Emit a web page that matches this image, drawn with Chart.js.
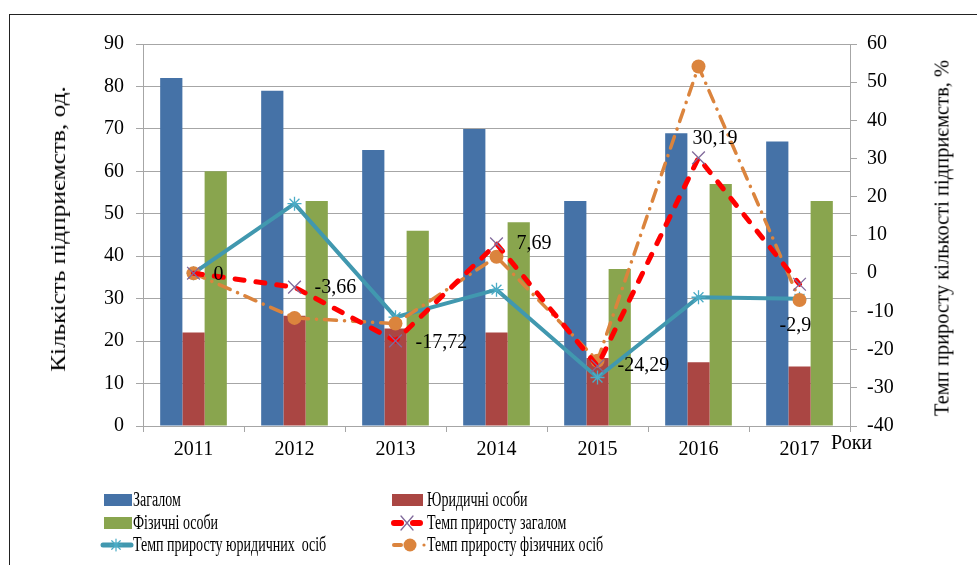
<!DOCTYPE html>
<html>
<head>
<meta charset="utf-8">
<script src="https://cdn.jsdelivr.net/npm/chart.js@4"></script>
<style>
  body { margin: 0; background: #fff; }
  #wrap { position: relative; width: 977px; height: 565px; overflow: hidden; }
  #frame { position: absolute; left: 9px; top: 14px; width: 1000px; height: 600px; border-left: 1.5px solid #222; border-top: 1.5px solid #222; }
  canvas { position: absolute; left: 0; top: 0; }
  .lbl { position: absolute; font-family: "Liberation Serif", serif; color: #000; white-space: nowrap; }
</style>
</head>
<body>
<div id="wrap">
  <div id="frame"></div>
  <canvas id="chart" width="977" height="565"></canvas>
  <div class="lbl" id="yTitle" style="font-size:22px; left:58px; top:229px; transform: translate(-50%, -50%) rotate(-90deg) scaleX(1.15);">Кількість підприємств, од.</div>
  <div class="lbl" id="y2Title" style="font-size:20.5px; left:942px; top:238px; transform: translate(-50%, -50%) rotate(-90deg);">Темп приросту кількості підприємств, %</div>
  <div class="lbl" style="font-size:20px; left:831px; top:431px;">Роки</div>
</div>
<script>
// data
const years = ['2011', '2012', '2013', '2014', '2015', '2016', '2017'];
const total = [82, 79, 65, 70, 53, 69, 67];
const legal = [22, 26, 23, 22, 16, 15, 14];
const individual = [60, 53, 46, 48, 37, 57, 53];
const growthTotal = [0, -3.66, -17.72, 7.69, -24.29, 30.19, -2.9];
const growthLegal = [0, 18.2, -11.5, -4.3, -27.3, -6.3, -6.7];
const growthIndividual = [0, -11.7, -13.2, 4.3, -22.9, 54.1, -7.0];

const blue = '#4572A7', red = '#AA4643', green = '#89A54E';
const teal = '#4198AF', orange = '#DB843D', purple = '#80699B';
const serif = '"Liberation Serif", "Times New Roman", serif';

// label offsets for the "total" growth values
const labelOffsets = [[20, 2], [20, 1], [20, 2], [20, 0], [20, 0], [-6, -19], [-20, 41]];

const valueLabels = {
    id: 'valueLabels',
    afterDatasetsDraw(chart) {
        const ctx = chart.ctx;
        const meta = chart.getDatasetMeta(3);
        ctx.save();
        ctx.font = '20px ' + serif;
        ctx.fillStyle = '#000';
        ctx.textBaseline = 'middle';
        ctx.textAlign = 'left';
        meta.data.forEach((pt, i) => {
            const txt = String(growthTotal[i]).replace('.', ',');
            ctx.fillText(txt, pt.x + labelOffsets[i][0], pt.y + labelOffsets[i][1]);
        });
        ctx.restore();
    }
};

const legendBox = {
    id: 'legendBox',
    afterDraw(chart) {
        const ctx = chart.ctx;
        const items = [
            { kind: 'bar', color: blue, x: 104, y: 500, w: 28, tx: 133, text: 'Загалом' },
            { kind: 'bar', color: red, x: 392, y: 500, w: 31, tx: 427, text: 'Юридичні особи' },
            { kind: 'bar', color: green, x: 104, y: 523, w: 28, tx: 133, text: 'Фізичні особи' },
            { kind: 'red', x: 392, y: 523, tx: 427, text: 'Темп приросту загалом' },
            { kind: 'teal', x: 103, y: 545, tx: 133, text: 'Темп приросту юридичних  осіб' },
            { kind: 'orange', x: 392, y: 545, tx: 427, text: 'Темп приросту фізичних осіб' }
        ];
        ctx.save();
        items.forEach(it => {
            ctx.save();
            if (it.kind === 'bar') {
                ctx.fillStyle = it.color;
                ctx.fillRect(it.x, it.y - 6, it.w, 12);
            } else if (it.kind === 'red') {
                ctx.strokeStyle = '#FF0000';
                ctx.lineWidth = 6;
                ctx.lineCap = 'round';
                ctx.beginPath();
                ctx.moveTo(it.x + 2, it.y); ctx.lineTo(it.x + 9, it.y);
                ctx.moveTo(it.x + 21, it.y); ctx.lineTo(it.x + 28, it.y);
                ctx.stroke();
                ctx.strokeStyle = purple;
                ctx.lineWidth = 1.3;
                ctx.beginPath();
                ctx.moveTo(it.x + 9, it.y - 7); ctx.lineTo(it.x + 21, it.y + 7);
                ctx.moveTo(it.x + 21, it.y - 7); ctx.lineTo(it.x + 9, it.y + 7);
                ctx.stroke();
            } else if (it.kind === 'teal') {
                ctx.strokeStyle = teal;
                ctx.lineWidth = 5;
                ctx.lineCap = 'round';
                ctx.beginPath();
                ctx.moveTo(it.x, it.y); ctx.lineTo(it.x + 28, it.y);
                ctx.stroke();
                ctx.strokeStyle = '#4BACC6';
                ctx.lineWidth = 1.2;
                const cx = it.x + 13, r = 6;
                ctx.beginPath();
                for (let k = 0; k < 4; k++) {
                    const a = k * Math.PI / 4;
                    ctx.moveTo(cx - r * Math.cos(a), it.y - r * Math.sin(a));
                    ctx.lineTo(cx + r * Math.cos(a), it.y + r * Math.sin(a));
                }
                ctx.stroke();
            } else if (it.kind === 'orange') {
                ctx.strokeStyle = orange;
                ctx.fillStyle = orange;
                ctx.lineWidth = 4;
                ctx.lineCap = 'round';
                ctx.beginPath();
                ctx.moveTo(it.x + 2, it.y); ctx.lineTo(it.x + 9, it.y);
                ctx.stroke();
                ctx.beginPath();
                ctx.arc(it.x + 18, it.y, 6.5, 0, Math.PI * 2);
                ctx.fill();
                ctx.beginPath();
                ctx.arc(it.x + 32, it.y, 1.6, 0, Math.PI * 2);
                ctx.fill();
            }
            ctx.restore();
            ctx.save();
            ctx.fillStyle = '#000';
            ctx.font = '20px ' + serif;
            ctx.textBaseline = 'middle';
            ctx.translate(it.tx, it.y + 1);
            ctx.scale(0.7, 1);
            ctx.fillText(it.text, 0, 0);
            ctx.restore();
        });
        ctx.restore();
    }
};

const gridColor = '#A6A6A6';

new Chart(document.getElementById('chart'), {
    type: 'bar',
    data: {
        labels: years,
        datasets: [
            { label: 'Загалом', data: total, backgroundColor: blue, yAxisID: 'y', order: 10 },
            { label: 'Юридичні особи', data: legal, backgroundColor: red, yAxisID: 'y', order: 10 },
            { label: 'Фізичні особи', data: individual, backgroundColor: green, yAxisID: 'y', order: 10 },
            {
                type: 'line', label: 'Темп приросту загалом', data: growthTotal, yAxisID: 'y2', order: 0,
                borderColor: '#FF0000', borderWidth: 5, borderDash: [9, 12], borderCapStyle: 'round',
                tension: 0, pointStyle: 'crossRot', pointRadius: 9, pointBorderColor: purple,
                pointBorderWidth: 1.3, pointBackgroundColor: purple
            },
            {
                type: 'line', label: 'Темп приросту юридичних  осіб', data: growthLegal, yAxisID: 'y2', order: 2,
                borderColor: teal, borderWidth: 4, tension: 0,
                pointStyle: 'star', pointRadius: 7, pointBorderColor: '#4BACC6', pointBorderWidth: 1.3
            },
            {
                type: 'line', label: 'Темп приросту фізичних осіб', data: growthIndividual, yAxisID: 'y2', order: 1,
                borderColor: orange, borderWidth: 3.5, borderDash: [12, 8, 0.1, 8], borderCapStyle: 'round',
                tension: 0, pointStyle: 'circle', pointRadius: 7, pointBackgroundColor: orange,
                pointBorderColor: orange, pointBorderWidth: 0
            }
        ]
    },
    options: {
        responsive: false,
        animation: false,
        events: [],
        layout: { padding: { left: 0, top: 44, right: 77, bottom: 99 } },
        categoryPercentage: 0.66,
        barPercentage: 1.0,
        plugins: {
            legend: { display: false },
            tooltip: { enabled: false }
        },
        scales: {
            x: {
                grid: { display: true, drawOnChartArea: false, offset: true, color: gridColor, tickLength: 6 },
                border: { color: gridColor },
                ticks: { color: '#000', font: { family: serif, size: 20 }, padding: 6 },
                afterFit(scale) { scale.height = 40; }
            },
            y: {
                position: 'left',
                min: 0, max: 90,
                ticks: { stepSize: 10, color: '#000', font: { family: serif, size: 20 }, padding: 12 },
                grid: { color: gridColor, tickLength: 7 },
                border: { color: gridColor },
                afterFit(scale) { scale.width = 143; }
            },
            y2: {
                position: 'right',
                min: -40, max: 60,
                ticks: { stepSize: 10, color: '#000', font: { family: serif, size: 20 }, padding: 10 },
                grid: { drawOnChartArea: false, color: gridColor, tickLength: 7 },
                border: { color: gridColor },
                afterFit(scale) { scale.width = 50; }
            }
        }
    },
    plugins: [valueLabels, legendBox]
});
</script>
</body>
</html>
